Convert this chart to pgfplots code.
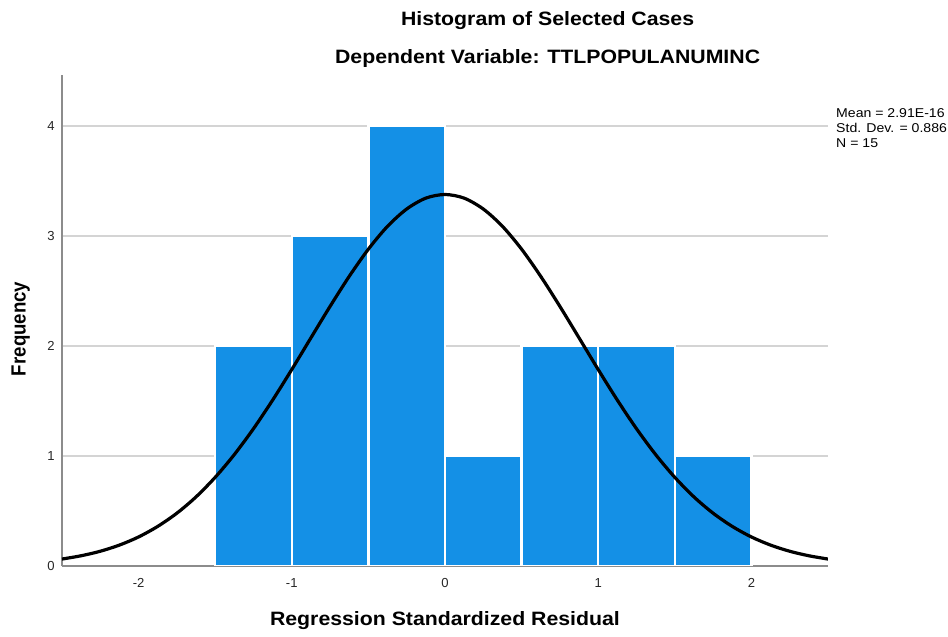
\documentclass[border=0pt]{standalone}
\usepackage{pgfplots}
\pgfplotsset{compat=1.18}
\usepackage{fontspec}
\setmainfont{Liberation Sans}
\definecolor{barblue}{HTML}{1490E6}
\definecolor{gridgray}{HTML}{D4D4D4}
\definecolor{axgray}{HTML}{8C8C8C}
\begin{document}
\begin{tikzpicture}[x=1pt,y=1pt]
\begin{axis}[
  scale only axis,
  width=574.5pt, height=368.25pt,
  xmin=-2.5, xmax=2.5, ymin=0, ymax=4.4636,
  axis x line=bottom, axis y line=left,
  axis line style={-, draw=axgray, line width=0.9pt},
  xtick={-2,-1,0,1,2}, ytick={0,1,2,3,4},
  major tick length=0pt,
  ymajorgrids, grid style={gridgray, line width=1.3pt},
  tick label style={font=\fontsize{9.8}{11}\selectfont, text=black!85},
  /pgf/number format/assume math mode=true,
  xticklabel style={yshift=-6pt},
  yticklabel style={xshift=-2pt},
  clip=true,
]
\addplot[ybar interval, fill=barblue, draw=white, line width=1.7pt] coordinates {
  (-1.5,2) (-1.0,3) (-0.5,4) (0.0,1) (0.5,2) (1.0,2) (1.5,1) (2.0,1)
};
\addplot[black, line width=2.4pt, smooth] coordinates {
  (-2.5,0.063) (-2.375,0.093) (-2.25,0.134) (-2.125,0.190) (-2.0,0.264)
  (-1.875,0.360) (-1.75,0.480) (-1.625,0.628) (-1.5,0.806) (-1.375,1.013)
  (-1.25,1.248) (-1.125,1.508) (-1.0,1.786) (-0.875,2.074) (-0.75,2.360)
  (-0.625,2.633) (-0.5,2.880) (-0.375,3.088) (-0.25,3.245) (-0.125,3.344)
  (0.0,3.377)
  (0.125,3.344) (0.25,3.245) (0.375,3.088) (0.5,2.880) (0.625,2.633)
  (0.75,2.360) (0.875,2.074) (1.0,1.786) (1.125,1.508) (1.25,1.248)
  (1.375,1.013) (1.5,0.806) (1.625,0.628) (1.75,0.480) (1.875,0.360)
  (2.0,0.264) (2.125,0.190) (2.25,0.134) (2.375,0.093) (2.5,0.063)
};
\coordinate (bbl) at (rel axis cs:-0.0809,-0.1446);
\coordinate (btr) at (rel axis cs:1.1567,1.1527);
\coordinate (t1) at (rel axis cs:0.634,1.0998);
\coordinate (t2) at (rel axis cs:0.634,1.0224);
\coordinate (leg) at (rel axis cs:1.0104,0.933);
\coordinate (xl) at (rel axis cs:0.5,-0.1222);
\coordinate (yl) at (rel axis cs:-0.054,0.483);
\end{axis}
\node[anchor=base, font=\bfseries\fontsize{14.5}{16}\selectfont] at (t1) {\scalebox{1.1}[1]{Histogram of Selected Cases}};
\node[anchor=base, font=\bfseries\fontsize{14.5}{16}\selectfont] at (t2) {\scalebox{1.1}[1]{Dependent Variable: TTLPOPULANUMINC}};
\node[anchor=north west, align=left, inner sep=0pt, font=\fontsize{9.6}{11.3}\selectfont] at (leg) {\scalebox{1.1}[1]{Mean = 2.91E-16}\\\scalebox{1.1}[1]{Std. Dev. = 0.886}\\\scalebox{1.1}[1]{N = 15}};
\node[anchor=base, font=\bfseries\fontsize{14.5}{16}\selectfont] at (xl) {\scalebox{1.1}[1]{Regression Standardized Residual}};
\node[font=\bfseries\fontsize{14}{16}\selectfont, rotate=90] at (yl) {\scalebox{1}[1.1]{Frequency}};
\pgfresetboundingbox
\path[use as bounding box] (bbl) rectangle (btr);
\end{tikzpicture}
\end{document}
